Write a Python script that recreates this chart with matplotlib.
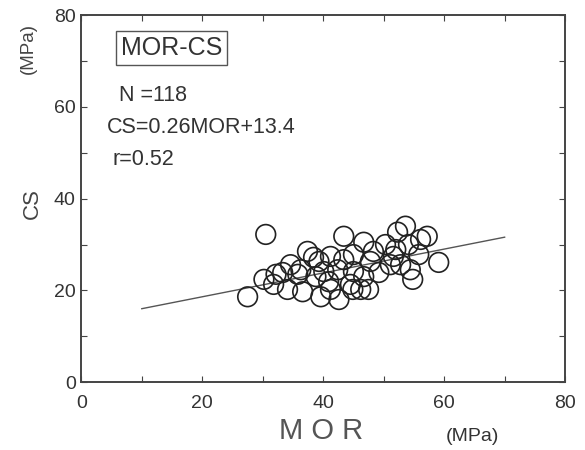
import matplotlib.pyplot as plt
from matplotlib.ticker import MultipleLocator

plt.rcParams['font.family'] = ['Liberation Sans', 'DejaVu Sans']

# MOR / CS pairs (MPa)
mor = [27.5, 30.5, 30.2, 31.8, 33.3, 34.1, 35.8, 36.6, 37.4, 38.4, 38.8, 39.6,
       41.2, 40.1, 40.9, 42.6, 43.4, 45.0, 46.7, 48.3, 49.2, 45.0, 46.2, 51.6,
       52.3, 53.6, 54.1, 56.1, 57.2, 54.4, 54.8, 59.1, 43.4, 42.4, 46.7, 51.1,
       44.9, 41.2, 47.8, 50.3, 52.8, 55.8, 34.6, 32.2, 36.3, 44.5, 39.3, 47.5,
       52.0]
cs = [18.6, 32.2, 22.4, 21.3, 23.9, 20.2, 23.5, 19.7, 28.5, 27.2, 23.0, 18.6,
      27.4, 24.1, 21.9, 18.0, 31.8, 27.8, 30.5, 28.5, 23.9, 24.1, 20.2, 27.4,
      32.7, 34.0, 30.0, 31.1, 31.8, 24.5, 22.4, 26.1, 26.7, 24.5, 23.0, 25.6,
      20.2, 20.2, 26.3, 30.0, 25.6, 27.8, 25.6, 23.5, 24.5, 21.3, 26.3, 20.2,
      28.9]

slope = 0.26
intercept = 13.4
fit_x = [10, 70]
fit_y = [slope * v + intercept for v in fit_x]

fig = plt.figure(figsize=(5.85, 4.5), dpi=100)
ax = fig.add_axes([0.139, 0.151, 0.827, 0.815])

ax.plot(fit_x, fit_y, color='#555555', lw=1.0, zorder=2)
ax.scatter(mor, cs, s=200, facecolors='none', edgecolors='#222222', linewidths=1.2, zorder=3)

ax.set_xlim(0, 80)
ax.set_ylim(0, 80)
ax.xaxis.set_major_locator(MultipleLocator(20))
ax.yaxis.set_major_locator(MultipleLocator(20))
ax.xaxis.set_minor_locator(MultipleLocator(10))
ax.yaxis.set_minor_locator(MultipleLocator(10))
ax.tick_params(which='both', direction='in', top=True, right=True, length=4,
               width=0.8, color='#444444', labelsize=14, labelcolor='#333333')
ax.tick_params(axis='x', pad=9)
ax.tick_params(axis='y', pad=4)
for s in ax.spines.values():
    s.set_color('#444444')
    s.set_linewidth(1.4)

ax.text(0.082, 0.911, 'MOR-CS', transform=ax.transAxes, fontsize=18, color='#333333',
        va='center', ha='left', bbox=dict(boxstyle='square,pad=0.2', fc='white', ec='#555555', lw=1.0))
ax.text(0.078, 0.781, 'N =118', transform=ax.transAxes, fontsize=15.5, color='#333333', va='center')
ax.text(0.052, 0.693, 'CS=0.26MOR+13.4', transform=ax.transAxes, fontsize=15.5, color='#333333', va='center')
ax.text(0.064, 0.608, 'r=0.52', transform=ax.transAxes, fontsize=15.5, color='#333333', va='center')

fig.text(0.055, 0.547, 'CS', rotation=90, fontsize=16, color='#444444', ha='center', va='center')
fig.text(0.048, 0.893, '(MPa)', rotation=90, fontsize=13.5, color='#444444', ha='center', va='center')
fig.text(0.549, 0.042, 'M O R', fontsize=21, color='#555555', ha='center', va='center')
fig.text(0.807, 0.031, '(MPa)', fontsize=14, color='#333333', ha='center', va='center')

plt.savefig('out.png', dpi=100)
